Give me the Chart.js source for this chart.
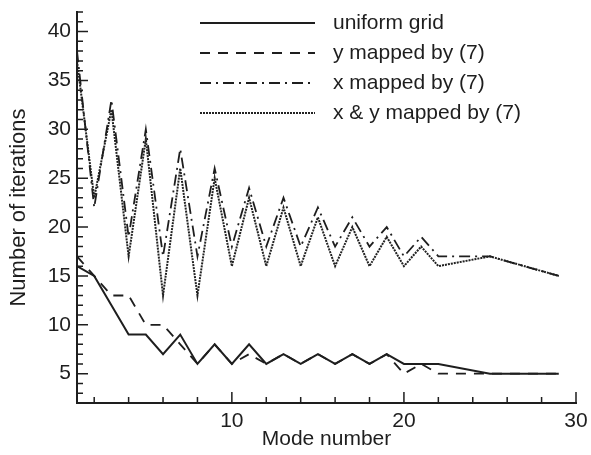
<!DOCTYPE html>
<html>
<head>
<meta charset="utf-8">
<script src="https://cdn.jsdelivr.net/npm/chart.js@4.4.0/dist/chart.umd.min.js"></script>
<style>
  html, body { margin: 0; padding: 0; background: #fff; }
  #wrap { width: 591px; height: 455px; }
</style>
</head>
<body>
<div id="wrap"><canvas id="iterChart"></canvas></div>
<script>
// mode numbers and iteration counts
var modes      = [1, 2, 3, 4, 5, 6, 7, 8, 9, 10, 11, 12, 13, 14, 15, 16, 17, 18, 19, 20, 21, 22, 25, 29];
var uniformGrid = [16, 15, 12, 9, 9, 7, 9, 6, 8, 6, 8, 6, 7, 6, 7, 6, 7, 6, 7, 6, 6, 6, 5, 5];
var yMapped    = [17, 15, 13, 13, 10, 10, 8, 6, 8, 6, 7, 6, 7, 6, 7, 6, 7, 6, 7, 5, 6, 5, 5, 5];
var xMapped    = [38, 22, 33, 19, 30, 17, 28, 17, 26, 18, 24, 18, 23, 18, 22, 18, 21, 18, 20, 17, 19, 17, 17, 15];
var xyMapped   = [37, 23, 32, 17, 29, 13, 26, 13, 25, 16, 23, 16, 22, 16, 21, 16, 20, 16, 19, 16, 18, 16, 17, 15];

var seriesNames = ['uniform grid', 'y mapped by (7)', 'x mapped by (7)', 'x & y mapped by (7)'];
var xTickLabels = [10, 20, 30];
var yTickLabels = [5, 10, 15, 20, 25, 30, 35, 40];

var ink = '#1e1e1e';
var fontFamily = '"Liberation Sans", Arial, Helvetica, sans-serif';

function points(values) {
    return modes.map(function (m, i) { return { x: m, y: values[i] }; });
}

// tick marks pointing into the plot, major and minor
var innerTicks = {
    id: 'innerTicks',
    afterDraw: function (chart) {
        var ctx = chart.ctx;
        var xs = chart.scales.x, ys = chart.scales.y;
        var v, p, len;
        ctx.save();
        ctx.strokeStyle = ink;
        ctx.lineWidth = 1.5;
        ctx.beginPath();
        for (v = xs.min + 1; v <= xs.max; v += 2) {
            p = xs.getPixelForValue(v);
            len = (v % 10 === 0) ? 11 : 6;
            ctx.moveTo(p, ys.bottom);
            ctx.lineTo(p, ys.bottom - len);
        }
        for (v = ys.min + 1; v <= ys.max; v += 1) {
            p = ys.getPixelForValue(v);
            len = (v % 5 === 0) ? 11 : 6;
            ctx.moveTo(xs.left, p);
            ctx.lineTo(xs.left + len, p);
        }
        ctx.stroke();
        ctx.restore();
    }
};

// legend in the upper right, long line samples
var lineLegend = {
    id: 'lineLegend',
    afterDraw: function (chart) {
        var ctx = chart.ctx;
        ctx.save();
        ctx.font = '21px ' + fontFamily;
        ctx.textBaseline = 'middle';
        ctx.fillStyle = ink;
        chart.data.datasets.forEach(function (ds, i) {
            var y = 23 + i * 30;
            ctx.beginPath();
            ctx.strokeStyle = ds.borderColor;
            ctx.lineWidth = ds.borderWidth;
            ctx.setLineDash(ds.borderDash || []);
            ctx.moveTo(200, y);
            ctx.lineTo(315, y);
            ctx.stroke();
            ctx.setLineDash([]);
            ctx.fillText(ds.label, 333, y);
        });
        ctx.restore();
    }
};

new Chart(document.getElementById('iterChart'), {
    type: 'line',
    data: {
        datasets: [
            { label: seriesNames[0], data: points(uniformGrid), borderColor: ink, borderWidth: 2, borderDash: [] },
            { label: seriesNames[1], data: points(yMapped), borderColor: ink, borderWidth: 1.8, borderDash: [10, 8] },
            { label: seriesNames[2], data: points(xMapped), borderColor: ink, borderWidth: 1.8, borderDash: [11, 5, 2, 5] },
            { label: seriesNames[3], data: points(xyMapped), borderColor: '#222', borderWidth: 2, borderDash: [2, 1] }
        ]
    },
    options: {
        responsive: true,
        maintainAspectRatio: false,
        animation: false,
        layout: { padding: { left: 0, top: 12, right: 15, bottom: 0 } },
        elements: {
            point: { radius: 0 },
            line: { tension: 0, fill: false, borderCapStyle: 'butt' }
        },
        plugins: {
            legend: { display: false },
            tooltip: { enabled: false }
        },
        scales: {
            x: {
                type: 'linear',
                min: 1,
                max: 30,
                afterBuildTicks: function (scale) {
                    scale.ticks = xTickLabels.map(function (v) { return { value: v }; });
                },
                afterFit: function (scale) {
                    scale.height = 52;
                    scale.paddingLeft = 0;
                    scale.paddingRight = 0;
                },
                grid: { display: false, drawTicks: false },
                border: { display: true, color: ink, width: 2 },
                ticks: { color: ink, padding: 6, maxRotation: 0, font: { size: 21, family: fontFamily } },
                title: { display: true, text: 'Mode number', color: ink, padding: { top: 0, bottom: 3 }, font: { size: 21, family: fontFamily } }
            },
            y: {
                min: 2,
                max: 42,
                afterBuildTicks: function (scale) {
                    scale.ticks = yTickLabels.map(function (v) { return { value: v }; });
                },
                afterFit: function (scale) {
                    scale.width = 77;
                    scale.paddingTop = 0;
                    scale.paddingBottom = 0;
                },
                grid: { display: false, drawTicks: false },
                border: { display: true, color: ink, width: 2 },
                ticks: { color: ink, padding: 6, font: { size: 21, family: fontFamily } },
                title: { display: true, text: 'Number of iterations', color: ink, padding: { top: 6, bottom: 0 }, font: { size: 22, family: fontFamily } }
            }
        }
    },
    plugins: [innerTicks, lineLegend]
});
</script>
</body>
</html>
